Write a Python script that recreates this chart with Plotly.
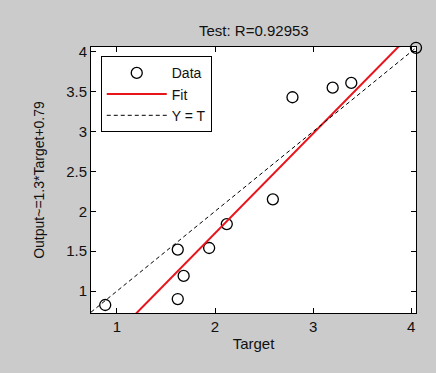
import plotly.graph_objects as go

target = [0.88, 1.62, 2.01, 1.68, 1.62, 1.94, 2.12, 2.59, 2.79, 3.20, 3.39, 4.05]
output = [0.825, 0.90, 0.72, 1.19, 1.52, 1.54, 1.84, 2.15, 3.43, 3.55, 3.61, 4.05]
fit_slope = 1.25
fit_intercept = -0.775
x_range = [0.735, 4.05]
y_range = [0.725, 4.06]
x_ticks = [1, 2, 3, 4]
y_ticks = [1, 1.5, 2, 2.5, 3, 3.5, 4]
y_tick_text = ["1", "1.5", "2", "2.5", "3", "3.5", "4"]
title_text = "Test: R=0.92953"
x_label = "Target"
y_label = "Output~=1.3*Target+0.79"

fit_x = [x_range[0], x_range[1]]
fit_y = [fit_slope * v + fit_intercept for v in fit_x]

fig = go.Figure()
fig.add_trace(go.Scatter(x=target, y=output, mode="markers", name="Data",
                         marker=dict(symbol="circle-open", size=11, color="black", line=dict(width=1.3)),
                         cliponaxis=False))
fig.add_trace(go.Scatter(x=fit_x, y=fit_y, mode="lines", name="Fit",
                         line=dict(color="#e8141c", width=2)))
fig.add_trace(go.Scatter(x=x_range, y=x_range, mode="lines", name="Y = T",
                         line=dict(color="black", width=1, dash="4px,3px")))

fig.update_layout(
    width=436, height=373,
    margin=dict(l=91, r=20, t=47, b=60),
    paper_bgcolor="#cbcbcb", plot_bgcolor="white",
    font=dict(family="Liberation Sans, Arial, sans-serif", size=15, color="#111"),
    showlegend=True,
    legend=dict(x=0.03, y=0.965, xanchor="left", yanchor="top",
                bgcolor="white", bordercolor="black", borderwidth=1,
                font=dict(size=14), itemwidth=60, tracegroupgap=0),
    annotations=[dict(text=title_text, x=0.5, xref="paper", y=1.0 + 17/266, yref="paper",
                      yanchor="middle", showarrow=False, font=dict(size=15))],
)
fig.update_xaxes(range=x_range, tickvals=x_ticks, ticks="inside", ticklen=5, tickcolor="black",
                 showline=True, linecolor="black", linewidth=1, mirror="ticks", showgrid=False,
                 zeroline=False, title=dict(text=x_label, standoff=4, font=dict(size=15)),
                 tickfont=dict(size=15))
fig.update_yaxes(range=y_range, tickvals=y_ticks, ticktext=y_tick_text, ticks="inside", ticklen=5,
                 tickcolor="black", showline=True, linecolor="black", linewidth=1, mirror="ticks",
                 showgrid=False, zeroline=False, title=dict(text=y_label, standoff=18, font=dict(size=14)),
                 tickfont=dict(size=15))

fig.write_html("out.html", config={"displayModeBar": False},
               post_script="document.body.style.margin='0';")
